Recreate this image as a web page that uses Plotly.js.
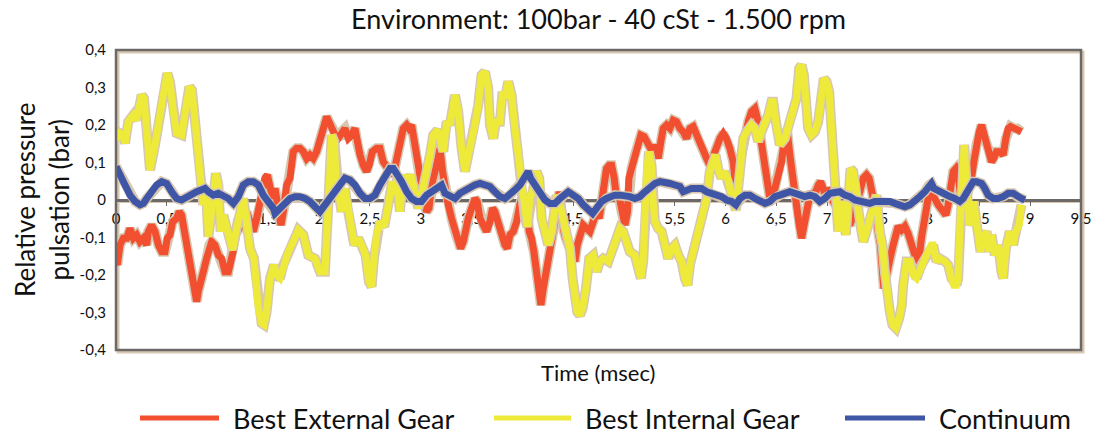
<!DOCTYPE html>
<html><head><meta charset="utf-8">
<script src="https://cdn.plot.ly/plotly-3.0.1.min.js"></script>
<style>html,body{margin:0;padding:0;background:#fff}#chart{width:1094px;height:434px}</style>
</head><body><div id="chart"></div>
<script>
// ---------- DATA ----------
const seriesNames = ['Best External Gear', 'Best Internal Gear', 'Continuum'];

const externalX = [0.000,0.013,0.039,0.072,0.105,0.138,0.171,0.203,0.236,0.269,0.302,0.318,0.351,0.384,0.417,0.450,0.482,0.505,0.531,0.558,0.597,0.623,0.646,0.669,0.696,0.722,0.745,0.768,0.794,0.810,0.833,0.860,0.892,0.919,0.942,0.974,1.007,1.040,1.073,1.106,1.138,1.161,1.181,1.204,1.237,1.260,1.286,1.319,1.352,1.385,1.417,1.450,1.466,1.490,1.516,1.542,1.565,1.581,1.598,1.624,1.647,1.680,1.713,1.745,1.778,1.811,1.844,1.877,1.909,1.942,1.975,2.008,2.041,2.074,2.097,2.123,2.156,2.188,2.221,2.254,2.287,2.320,2.352,2.379,2.402,2.434,2.467,2.493,2.523,2.566,2.598,2.631,2.664,2.697,2.730,2.762,2.795,2.828,2.861,2.884,2.910,2.936,2.959,2.982,3.008,3.035,3.058,3.081,3.107,3.140,3.166,3.189,3.215,3.255,3.271,3.304,3.337,3.369,3.392,3.419,3.445,3.468,3.501,3.533,3.556,3.583,3.616,3.648,3.681,3.707,3.730,3.763,3.796,3.829,3.852,3.878,3.911,3.944,3.976,4.003,4.026,4.049,4.068,4.091,4.114,4.140,4.163,4.183,4.206,4.232,4.255,4.278,4.304,4.321,4.344,4.364,4.387,4.409,4.429,4.452,4.485,4.518,4.541,4.567,4.600,4.633,4.665,4.698,4.731,4.757,4.780,4.803,4.829,4.856,4.879,4.905,4.928,4.944,4.977,5.010,5.036,5.049,5.075,5.108,5.141,5.167,5.200,5.223,5.256,5.279,5.305,5.338,5.364,5.387,5.420,5.453,5.486,5.518,5.551,5.584,5.617,5.650,5.682,5.715,5.748,5.781,5.814,5.846,5.879,5.912,5.945,5.978,6.010,6.043,6.076,6.099,6.125,6.158,6.191,6.224,6.257,6.289,6.322,6.355,6.381,6.404,6.421,6.437,6.470,6.503,6.552,6.585,6.608,6.634,6.660,6.683,6.699,6.726,6.749,6.765,6.791,6.814,6.837,6.864,6.890,6.913,6.936,6.962,6.988,7.011,7.034,7.060,7.093,7.126,7.159,7.192,7.224,7.251,7.274,7.297,7.323,7.356,7.388,7.415,7.438,7.461,7.480,7.503,7.526,7.546,7.559,7.579,7.602,7.625,7.651,7.677,7.700,7.733,7.766,7.799,7.831,7.864,7.897,7.930,7.963,7.995,8.028,8.061,8.094,8.143,8.170,8.192,8.215,8.242,8.268,8.291,8.314,8.340,8.379,8.422,8.445,8.471,8.498,8.521,8.544,8.570,8.596,8.619,8.642,8.668,8.701,8.734,8.760,8.783,8.806,8.839,8.872,8.914];
const externalY = [-0.164,-0.173,-0.120,-0.102,-0.102,-0.076,-0.102,-0.093,-0.111,-0.102,-0.120,-0.084,-0.067,-0.084,-0.120,-0.138,-0.138,-0.102,-0.093,-0.058,-0.049,-0.031,-0.040,-0.076,-0.111,-0.147,-0.200,-0.244,-0.271,-0.244,-0.209,-0.191,-0.156,-0.120,-0.111,-0.120,-0.147,-0.156,-0.191,-0.191,-0.156,-0.129,-0.084,-0.049,-0.067,-0.058,-0.031,-0.067,-0.084,-0.049,-0.004,0.031,0.058,0.067,0.031,0.004,0.031,-0.004,-0.040,-0.067,-0.031,0.040,0.058,0.129,0.138,0.138,0.129,0.111,0.120,0.111,0.129,0.164,0.200,0.222,0.209,0.191,0.173,0.164,0.182,0.191,0.164,0.173,0.191,0.147,0.120,0.093,0.076,0.093,0.129,0.138,0.138,0.102,0.084,0.076,0.067,0.111,0.147,0.191,0.200,0.191,0.200,0.164,0.120,0.084,0.031,-0.013,-0.031,-0.022,0.040,0.076,0.120,0.138,0.076,0.004,-0.013,-0.049,-0.084,-0.111,-0.129,-0.111,-0.067,-0.049,-0.022,0.004,-0.004,-0.049,-0.067,-0.084,-0.058,-0.022,-0.031,-0.067,-0.084,-0.120,-0.129,-0.093,-0.084,-0.058,-0.013,0.013,-0.004,-0.031,-0.084,-0.102,-0.138,-0.191,-0.227,-0.280,-0.236,-0.200,-0.164,-0.129,-0.084,-0.058,-0.022,0.022,-0.049,-0.084,-0.102,-0.120,-0.138,-0.164,-0.120,-0.093,-0.067,-0.076,-0.084,-0.058,-0.031,-0.049,-0.004,0.040,0.084,0.093,0.093,0.058,0.004,0.022,-0.031,-0.067,-0.031,0.058,0.084,0.120,0.156,0.173,0.169,0.156,0.147,0.129,0.147,0.111,0.156,0.191,0.200,0.191,0.213,0.209,0.191,0.182,0.164,0.191,0.196,0.173,0.147,0.129,0.111,0.093,0.120,0.147,0.164,0.178,0.164,0.138,0.102,0.040,0.076,0.129,0.182,0.209,0.236,0.244,0.209,0.147,0.111,0.076,0.040,0.004,0.013,0.058,0.102,0.173,0.182,0.120,0.058,0.040,-0.004,-0.067,-0.102,-0.076,-0.031,-0.004,0.022,0.013,0.022,0.040,0.049,0.031,0.004,0.031,0.022,-0.004,-0.022,-0.031,-0.040,-0.049,-0.067,-0.049,-0.031,0.004,0.022,0.058,0.067,0.058,0.031,0.004,-0.031,-0.084,-0.120,-0.191,-0.236,-0.209,-0.170,-0.150,-0.120,-0.090,-0.070,-0.080,-0.070,-0.090,-0.120,-0.150,-0.175,-0.100,-0.031,0.004,0.013,0.004,-0.013,-0.031,-0.040,-0.013,0.040,0.076,0.084,0.067,0.013,-0.004,0.013,0.058,0.102,0.147,0.182,0.200,0.173,0.156,0.129,0.102,0.111,0.129,0.129,0.120,0.164,0.191,0.196,0.191,0.191,0.182];

const internalX = [0.000,0.039,0.072,0.089,0.121,0.171,0.203,0.253,0.276,0.302,0.335,0.384,0.417,0.466,0.505,0.531,0.564,0.597,0.646,0.663,0.722,0.748,0.781,0.801,0.833,0.860,0.886,0.909,0.942,0.984,1.007,1.030,1.056,1.106,1.148,1.181,1.227,1.253,1.286,1.319,1.358,1.401,1.434,1.457,1.483,1.516,1.555,1.580,1.614,1.647,1.696,1.745,1.795,1.844,1.893,1.959,2.008,2.057,2.077,2.097,2.123,2.149,2.169,2.195,2.221,2.254,2.280,2.313,2.346,2.385,2.424,2.457,2.490,2.516,2.539,2.565,2.598,2.641,2.687,2.720,2.746,2.766,2.795,2.828,2.861,2.903,2.943,2.976,3.015,3.058,3.091,3.123,3.166,3.205,3.222,3.255,3.287,3.337,3.369,3.402,3.435,3.468,3.501,3.533,3.566,3.599,3.632,3.665,3.681,3.714,3.740,3.780,3.806,3.829,3.862,3.894,3.927,3.960,3.983,4.009,4.026,4.049,4.075,4.108,4.140,4.167,4.190,4.222,4.255,4.288,4.321,4.337,4.370,4.403,4.436,4.469,4.495,4.518,4.541,4.567,4.593,4.626,4.659,4.698,4.731,4.764,4.797,4.846,4.879,4.911,4.961,4.993,5.026,5.059,5.108,5.141,5.167,5.190,5.207,5.223,5.246,5.272,5.289,5.305,5.338,5.371,5.404,5.436,5.469,5.502,5.535,5.568,5.600,5.627,5.650,5.682,5.715,5.748,5.781,5.814,5.846,5.879,5.902,5.928,5.961,5.988,6.020,6.043,6.076,6.102,6.125,6.152,6.175,6.207,6.257,6.289,6.322,6.355,6.388,6.421,6.453,6.470,6.496,6.535,6.585,6.634,6.667,6.699,6.726,6.749,6.772,6.791,6.814,6.847,6.880,6.913,6.946,6.968,6.995,7.021,7.044,7.060,7.077,7.093,7.110,7.133,7.159,7.185,7.208,7.231,7.257,7.283,7.306,7.329,7.356,7.388,7.421,7.454,7.487,7.520,7.546,7.569,7.592,7.618,7.644,7.677,7.710,7.736,7.749,7.782,7.815,7.848,7.881,7.930,7.979,8.028,8.045,8.078,8.110,8.160,8.192,8.225,8.248,8.274,8.291,8.307,8.324,8.340,8.350,8.366,8.379,8.399,8.422,8.445,8.465,8.488,8.511,8.537,8.570,8.596,8.619,8.652,8.685,8.717,8.734,8.760,8.799,8.832,8.858,8.891,8.914];
const internalY = [0.160,0.178,0.173,0.151,0.209,0.227,0.213,0.280,0.271,0.191,0.080,0.147,0.209,0.280,0.338,0.316,0.236,0.178,0.173,0.200,0.302,0.293,0.218,0.147,0.053,-0.013,0.031,-0.098,-0.031,0.071,0.040,-0.084,-0.040,-0.084,-0.133,-0.084,-0.013,0.004,-0.058,-0.129,-0.156,-0.289,-0.329,-0.333,-0.298,-0.209,-0.173,-0.200,-0.209,-0.173,-0.138,-0.111,-0.080,-0.093,-0.147,-0.156,-0.191,-0.191,-0.084,0.076,0.173,0.156,0.040,0.013,-0.031,0.031,-0.022,-0.067,-0.120,-0.102,-0.124,-0.147,-0.218,-0.231,-0.156,-0.093,-0.058,-0.071,-0.004,0.049,0.013,0.058,-0.031,0.067,0.040,0.067,0.022,-0.022,0.022,0.067,0.120,0.173,0.187,0.147,0.129,0.209,0.200,0.280,0.236,0.138,0.076,0.120,0.156,0.200,0.253,0.333,0.342,0.298,0.200,0.164,0.209,0.209,0.289,0.271,0.316,0.280,0.191,0.120,0.058,0.022,-0.049,-0.071,0.004,0.031,0.076,0.058,-0.049,-0.084,-0.120,-0.084,-0.004,0.013,-0.013,-0.049,-0.076,-0.129,-0.209,-0.280,-0.298,-0.307,-0.289,-0.236,-0.156,-0.147,-0.191,-0.164,-0.156,-0.164,-0.138,-0.111,-0.076,-0.084,-0.111,-0.138,-0.147,-0.182,-0.209,-0.164,-0.031,0.076,0.129,0.093,-0.013,-0.058,-0.076,-0.084,-0.120,-0.156,-0.129,-0.120,-0.147,-0.164,-0.209,-0.227,-0.173,-0.138,-0.102,-0.084,-0.031,0.004,0.076,0.102,0.120,0.084,0.058,0.076,0.058,0.031,0.004,-0.027,0.031,0.120,0.164,0.182,0.200,0.191,0.156,0.182,0.200,0.227,0.262,0.262,0.209,0.147,0.164,0.218,0.236,0.271,0.351,0.360,0.333,0.253,0.191,0.173,0.182,0.209,0.298,0.324,0.316,0.289,0.191,0.102,0.031,-0.013,-0.084,-0.004,-0.031,-0.093,-0.004,0.084,0.076,0.040,-0.022,-0.067,-0.111,-0.084,-0.049,-0.031,0.013,-0.084,-0.120,-0.191,-0.262,-0.298,-0.333,-0.342,-0.316,-0.280,-0.227,-0.164,-0.164,-0.200,-0.209,-0.173,-0.147,-0.120,-0.120,-0.164,-0.156,-0.164,-0.173,-0.209,-0.227,-0.227,-0.209,-0.076,0.058,0.138,0.147,0.076,-0.031,-0.067,-0.049,-0.004,-0.049,-0.102,-0.138,-0.102,-0.084,-0.138,-0.093,-0.147,-0.120,-0.191,-0.209,-0.129,-0.084,-0.120,-0.084,-0.067,-0.013];

const continuumX = [0.000,0.039,0.089,0.138,0.187,0.236,0.269,0.302,0.351,0.400,0.450,0.499,0.548,0.597,0.646,0.696,0.745,0.794,0.843,0.876,0.909,0.958,1.007,1.056,1.106,1.155,1.204,1.253,1.302,1.352,1.401,1.450,1.499,1.549,1.565,1.614,1.663,1.713,1.762,1.811,1.860,1.909,1.959,2.008,2.057,2.106,2.156,2.205,2.254,2.303,2.352,2.402,2.451,2.500,2.549,2.598,2.648,2.697,2.730,2.762,2.812,2.861,2.910,2.959,3.008,3.058,3.107,3.156,3.205,3.238,3.287,3.337,3.386,3.435,3.484,3.533,3.583,3.632,3.681,3.730,3.780,3.829,3.878,3.927,3.976,4.026,4.058,4.081,4.124,4.173,4.222,4.272,4.321,4.370,4.419,4.452,4.501,4.551,4.600,4.649,4.692,4.731,4.780,4.829,4.911,4.961,5.010,5.059,5.108,5.157,5.207,5.256,5.305,5.354,5.404,5.453,5.502,5.551,5.584,5.617,5.666,5.715,5.764,5.814,5.863,5.912,5.961,6.010,6.060,6.102,6.142,6.191,6.240,6.289,6.338,6.388,6.437,6.486,6.535,6.585,6.634,6.683,6.732,6.781,6.831,6.880,6.929,6.978,7.028,7.077,7.126,7.175,7.224,7.274,7.323,7.372,7.421,7.470,7.520,7.569,7.618,7.667,7.717,7.766,7.815,7.864,7.913,7.963,8.005,8.028,8.051,8.110,8.160,8.209,8.258,8.307,8.340,8.373,8.406,8.439,8.471,8.521,8.553,8.586,8.635,8.685,8.734,8.783,8.832,8.872,8.914,8.947];
const continuumY = [0.089,0.071,0.040,0.013,-0.004,-0.013,-0.009,0.004,0.022,0.040,0.049,0.044,0.022,0.004,0.000,0.009,0.018,0.022,0.027,0.031,0.022,0.013,0.018,0.013,0.004,-0.009,0.009,0.040,0.049,0.049,0.040,0.013,-0.004,-0.022,-0.036,-0.022,-0.004,0.004,0.009,0.009,0.004,-0.004,-0.018,-0.031,-0.013,0.004,0.022,0.040,0.058,0.053,0.040,0.018,0.004,0.004,0.013,0.040,0.067,0.084,0.084,0.071,0.049,0.022,0.004,-0.004,-0.004,0.013,0.022,0.031,0.040,0.018,0.009,0.004,0.018,0.027,0.036,0.040,0.044,0.040,0.036,0.022,0.009,0.004,0.013,0.027,0.040,0.058,0.076,0.058,0.040,0.018,0.000,-0.009,-0.009,0.004,0.018,0.022,0.013,0.004,-0.013,-0.027,-0.036,-0.022,-0.004,0.004,0.013,0.013,0.013,0.009,0.004,0.009,0.022,0.036,0.044,0.049,0.044,0.044,0.040,0.036,0.022,0.027,0.031,0.031,0.031,0.022,0.018,0.013,0.009,0.000,-0.004,-0.013,0.004,0.013,0.013,0.004,-0.004,-0.009,-0.004,0.009,0.013,0.018,0.022,0.018,0.013,0.009,0.013,0.009,-0.004,0.004,0.018,0.022,0.022,0.013,0.009,0.000,-0.004,-0.009,-0.009,-0.004,-0.004,-0.004,-0.004,-0.009,-0.013,-0.018,-0.013,-0.004,0.009,0.022,0.040,0.044,0.031,0.022,0.013,0.009,0.004,-0.004,0.004,0.022,0.040,0.049,0.049,0.044,0.031,0.013,0.004,0.004,0.009,0.018,0.018,0.009,0.004,0.000];

const xTickVals = [0,0.5,1,1.5,2,2.5,3,3.5,4,4.5,5,5.5,6,6.5,7,7.5,8,8.5,9,9.5];
const xTickText = ['0','0,5','1','1,5','2','2,5','3','3,5','4','4,5','5','5,5','6','6,5','7','7,5','8','8,5','9','9,5'];
const yTickVals = [-0.4,-0.3,-0.2,-0.1,0,0.1,0.2,0.3,0.4];
const yTickText = ['-0,4','-0,3','-0,2','-0,1','0','0,1','0,2','0,3','0,4'];

// ---------- STYLE ----------
const colors = ['#F24E30', '#EEEA3A', '#3F55A5'];
const glow = '#D8C7B0';
const frameGrey = '#6C6868';
const FONT = 'Lato, "Open Sans", sans-serif';

const W = 1094, H = 434;
const M = {l: 116, r: 13, t: 50, b: 84};
const PW = W - M.l - M.r, PH = H - M.t - M.b;
const px2x = p => (p - M.l) / PW;
const py2y = p => (H - M.b - p) / PH;

const seriesX = [externalX, internalX, continuumX];
const seriesY = [externalY, internalY, continuumY];

const traces = [];
for (let i = 0; i < 3; i++) {
  traces.push({x: seriesX[i], y: seriesY[i], type: 'scatter', mode: 'lines',
    line: {color: glow, width: 10}, hoverinfo: 'skip', showlegend: false});
  traces.push({x: seriesX[i], y: seriesY[i], type: 'scatter', mode: 'lines', name: seriesNames[i],
    line: {color: colors[i], width: 7}, showlegend: false});
}

// custom legend (long line samples like the original)
const legendY = py2y(418);
const legendItems = [
  {x0: 140, x1: 219, tx: 231},
  {x0: 494, x1: 571, tx: 583},
  {x0: 845, x1: 925, tx: 937}
];

const shapes = [
  {type: 'rect', xref: 'paper', yref: 'paper', x0: 2 / PW, x1: 1 + 2 / PW, y0: -2 / PH, y1: 1 - 2 / PH,
    line: {color: glow, width: 3}, layer: 'below'},
  {type: 'line', xref: 'paper', yref: 'y', x0: 0, x1: 1, y0: -0.004, y1: -0.004,
    line: {color: glow, width: 3}, layer: 'below'},
  {type: 'rect', xref: 'paper', yref: 'paper', x0: 0, x1: 1, y0: 0, y1: 1,
    line: {color: frameGrey, width: 2.5}, layer: 'above'}
];
const annotations = [
  {text: 'Time (msec)', xref: 'paper', yref: 'paper', x: 0.5, y: py2y(372), xanchor: 'center', yanchor: 'middle',
    showarrow: false, font: {family: FONT, size: 22, color: '#111'}},
  {text: 'Relative pressure<br>pulsation (bar)', xref: 'paper', yref: 'paper', x: px2x(42), y: 0.5,
    xanchor: 'center', yanchor: 'middle', textangle: -90, showarrow: false,
    font: {family: FONT, size: 26, color: '#111'}}
];
legendItems.forEach((it, i) => {
  shapes.push({type: 'line', xref: 'paper', yref: 'paper', x0: px2x(it.x0), x1: px2x(it.x1), y0: legendY, y1: legendY,
    line: {color: colors[i], width: 5}});
  annotations.push({text: seriesNames[i], xref: 'paper', yref: 'paper', x: px2x(it.tx), y: legendY,
    xanchor: 'left', yanchor: 'middle', showarrow: false, font: {family: FONT, size: 27, color: '#111'}});
});

const layout = {
  width: W, height: H, margin: M,
  paper_bgcolor: '#fff', plot_bgcolor: '#fff',
  font: {family: FONT, color: '#111'},
  showlegend: false,
  title: {text: 'Environment: 100bar - 40 cSt - 1.500 rpm', x: 0.5, xref: 'paper', xanchor: 'center',
    y: 1 - 20 / H, yref: 'container', yanchor: 'middle', font: {family: FONT, size: 27, color: '#111'}},
  xaxis: {range: [0, 9.5], tickvals: xTickVals, ticktext: xTickText, showgrid: false, zeroline: false,
    showline: true, linecolor: frameGrey, linewidth: 2.5, anchor: 'free', position: 0.5,
    ticks: 'outside', ticklen: 4, tickcolor: frameGrey, tickwidth: 1, layer: 'below traces',
    tickfont: {family: FONT, size: 15, color: '#111'}, fixedrange: true},
  yaxis: {range: [-0.4, 0.4], tickvals: yTickVals, ticktext: yTickText, showgrid: false, zeroline: false,
    showline: false, ticks: 'outside', ticklen: 6, tickcolor: 'rgba(0,0,0,0)',
    tickfont: {family: FONT, size: 15, color: '#111'}, fixedrange: true},
  shapes: shapes, annotations: annotations
};

Plotly.newPlot('chart', traces, layout, {displayModeBar: false, staticPlot: true});
</script></body></html>
